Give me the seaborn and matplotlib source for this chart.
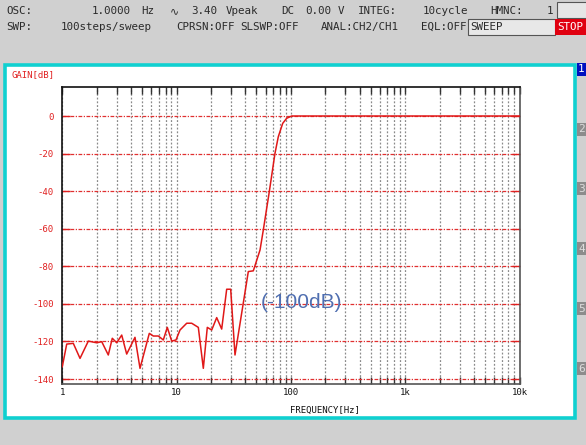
import matplotlib
matplotlib.use("Agg")
import matplotlib.pyplot as plt
from matplotlib.patches import Rectangle
from matplotlib.ticker import FixedLocator, FixedFormatter, LogLocator, NullFormatter
import seaborn as sns
import pandas as pd
import numpy as np

# ---------------- data ----------------
freq_hz = [1.0, 1.093, 1.248, 1.429, 1.689, 2.0, 2.212, 2.526, 2.737, 2.992,
           3.31, 3.659, 4.325, 4.785, 5.77, 6.256, 6.92, 7.65, 8.29, 9.06,
           9.88, 10.71, 12.26, 13.55, 15.49, 17.13, 18.56, 20.28, 22.43, 24.8,
           27.43, 29.73, 32.43, 42.4, 46.9, 53.7, 57.35, 64.7, 72.6, 77.6,
           84.8, 91.9, 101.6, 157.0, 10000.0]
gain_db = [-133.4, -121.4, -121.0, -129.0, -119.8, -120.7, -120.1, -127.2, -118.3, -120.7,
           -116.6, -126.7, -117.8, -134.3, -115.7, -117.1, -117.1, -119.2, -112.5, -119.8,
           -119.2, -113.9, -110.3, -110.3, -112.5, -134.3, -112.5, -113.9, -107.3, -113.4,
           -92.2, -92.2, -127.2, -82.8, -82.4, -71.3, -60.7, -40.3, -19.8, -11.0,
           -3.9, -1.2, 0.0, 0.0, 0.0]
x_ticks = [1, 10, 100, 1000, 10000]
x_tick_labels = ["1", "10", "100", "1k", "10k"]
y_ticks = [0, -20, -40, -60, -80, -100, -120, -140]
y_tick_labels = ["0", "-20", "-40", "-60", "-80", "-100", "-120", "-140"]

header_line1 = [("OSC:", 6.6), ("1.0000", 92), ("Hz", 141), ("\u223f", 170), ("3.40", 191),
                ("Vpeak", 226), ("DC", 281), ("0.00", 305), ("V", 338), ("INTEG:", 358),
                ("10cycle", 423), ("HMNC:", 490), ("1", 547)]
header_line2 = [("SWP:", 6.6), ("100steps/sweep", 60.5), ("CPRSN:OFF", 176), ("SLSWP:OFF", 240),
                ("ANAL:CH2/CH1", 321), ("EQL:OFF", 421)]
tab_labels = ["1", "2", "3", "4", "5", "6"]
tab_tops = [63, 123, 182, 242, 302, 362]

# ---------------- figure ----------------
W, H = 586, 445
fig = plt.figure(figsize=(W / 100, H / 100), dpi=100, facecolor="#d0d0d0")

def fx(x):
    return x / W

def fy(y):
    return 1 - y / H

def rect(x0, y0, x1, y1, z=-1, **kw):
    r = Rectangle((fx(x0), fy(y1)), fx(x1) - fx(x0), fy(y0) - fy(y1),
                  transform=fig.transFigure, figure=fig, zorder=z, **kw)
    fig.patches.append(r)
    return r

mono = ["DejaVu Sans Mono", "DejaVu Sans"]
HFS = 7.8

# header
for t, x in header_line1:
    fig.text(fx(x), fy(11), t, family=mono, fontsize=HFS, color="#2a2a2a", va="center", ha="left")
for t, x in header_line2:
    fig.text(fx(x), fy(27), t, family=mono, fontsize=HFS, color="#2a2a2a", va="center", ha="left")
rect(557, 2, 590, 18, facecolor="#e6e6e6", edgecolor="#555555", lw=0.8)
rect(468, 19, 555, 35, facecolor="#e8e8e8", edgecolor="#555555", lw=0.8)
fig.text(fx(470), fy(27), "SWEEP", family=mono, fontsize=HFS, color="#2a2a2a", va="center", ha="left")
rect(555, 19, 590, 35, facecolor="#e00010", edgecolor="none")
fig.text(fx(557), fy(27), "STOP", family=mono, fontsize=HFS, color="white", va="center", ha="left")

# panel
rect(5, 64.5, 574.5, 417.5, z=-2, facecolor="white", edgecolor="#10d0d0", lw=2.6)

# tabs
for lab, top in zip(tab_labels, tab_tops):
    fc = "#0010c0" if lab == "1" else "#8c8c8c"
    tc = "white" if lab == "1" else "#dddddd"
    rect(577, top, 590, top + 13, facecolor=fc, edgecolor="none")
    fig.text(fx(578), fy(top + 6.5), lab, family=mono, fontsize=8, color=tc, va="center", ha="left")

# axes
left, right, top, bottom = 62.3, 519.5, 86.7, 384.3
ax = fig.add_axes([fx(left), fy(bottom), fx(right) - fx(left), fy(top) - fy(bottom)])
ax.set_zorder(1)
ax.set_facecolor("white")

df = pd.DataFrame({"freq": freq_hz, "gain": gain_db})
sns.lineplot(data=df, x="freq", y="gain", ax=ax, color="#e01818", lw=1.1,
             sort=False, estimator=None, zorder=5)

ax.set_xscale("log")
ax.set_xlim(1, 10000)
ax.set_ylim(-142.8, 15.6)

ax.xaxis.set_major_locator(FixedLocator(x_ticks))
ax.xaxis.set_major_formatter(FixedFormatter(x_tick_labels))
ax.xaxis.set_minor_locator(LogLocator(base=10, subs=np.arange(2, 10)))
ax.xaxis.set_minor_formatter(NullFormatter())
ax.yaxis.set_major_locator(FixedLocator(y_ticks))
ax.yaxis.set_major_formatter(FixedFormatter(y_tick_labels))

ax.set_xlabel("")
ax.set_ylabel("")

ax.yaxis.grid(True, which="major", color="#e03030", linestyle=(0, (3, 1.2, 1, 1.2)), lw=0.9)
ax.xaxis.grid(True, which="both", color="#8a8a8a", linestyle=(0, (1.5, 1.5)), lw=0.9)
ax.set_axisbelow(True)

ax.tick_params(axis="x", which="both", direction="in", top=True, bottom=True,
               length=5, width=1, color="#333333", labelsize=6.5, labelcolor="#111111", pad=3)
ax.tick_params(axis="y", which="major", direction="in", left=True, right=True,
               length=6, width=1, color="#e02020", labelsize=6.5, labelcolor="#e02020", pad=6)
for lab in ax.get_xticklabels() + ax.get_yticklabels():
    lab.set_family(mono)

for s in ["left", "top"]:
    ax.spines[s].set_color("#111111")
    ax.spines[s].set_linewidth(1.2)
for s in ["right", "bottom"]:
    ax.spines[s].set_color("#555555")
    ax.spines[s].set_linewidth(1.2)

fig.text(fx(11.7), fy(75), "GAIN[dB]", family=mono, fontsize=6.5, color="#e02020", va="center", ha="left")
fig.text(fx(290), fy(410.7), "FREQUENCY[Hz]", family=mono, fontsize=6.5, color="#111111", va="center", ha="left")
fig.text(fx(302), fy(302), "(-100dB)", family=["Liberation Sans", "DejaVu Sans"], fontsize=15,
         color="#4f6eb0", va="center", ha="center", zorder=10)

fig.savefig("out.png", dpi=100, facecolor=fig.get_facecolor())
